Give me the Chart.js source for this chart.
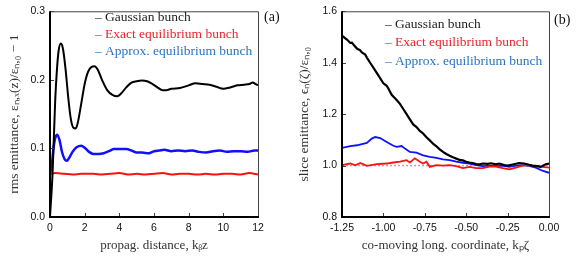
<!DOCTYPE html>
<html>
<head>
<meta charset="utf-8">
<script src="https://cdn.jsdelivr.net/npm/chart.js@4/dist/chart.umd.min.js"></script>
<style>
body { margin: 0; background: #fff; }
#wrap { position: relative; width: 581px; height: 261px; }
.panel { position: absolute; top: 0; }
</style>
</head>
<body>
<div id="wrap">
  <div class="panel" style="left:0"><canvas id="panel-a" width="290" height="261"></canvas></div>
  <div class="panel" style="left:290px"><canvas id="panel-b" width="291" height="261"></canvas></div>
</div>
<script>
/* series labels and legend text colours */
var seriesLabels = ["Gaussian bunch", "Exact equilibrium bunch", "Approx. equilibrium bunch"];
var legendColors = ["#222", "#f0202e", "#2b72c2"];

/* panel (a): rms emittance growth vs propagation distance, [k_beta z, value] */
var gaussianA = [[0,0],[0.15,0.065],[0.3,0.17],[0.4,0.215],[0.5,0.243],[0.63,0.253],[0.75,0.245],
  [0.9,0.215],[1.05,0.175],[1.2,0.143],[1.35,0.13],[1.48,0.129],[1.6,0.137],[1.8,0.165],[2.0,0.194],
  [2.2,0.212],[2.4,0.219],[2.57,0.22],[2.75,0.215],[3.0,0.2],[3.3,0.185],[3.6,0.178],[3.88,0.176],
  [4.1,0.18],[4.4,0.189],[4.7,0.196],[5.0,0.198],[5.3,0.199],[5.6,0.198],[5.9,0.194],[6.2,0.189],
  [6.5,0.185],[6.7,0.185],[7.0,0.187],[7.5,0.188],[8.0,0.192],[8.4,0.195],[8.8,0.194],[9.2,0.193],
  [9.6,0.19],[10.0,0.187],[10.4,0.189],[10.8,0.192],[11.2,0.193],[11.5,0.194],[11.7,0.196],
  [11.85,0.194],[12.0,0.192]];
var exactA = [[0,0.062],[0.3,0.064],[0.8,0.063],[1.3,0.062],[1.8,0.063],[2.5,0.063],[3.0,0.062],
  [3.5,0.063],[4.0,0.064],[4.5,0.062],[5.0,0.063],[5.5,0.062],[6.0,0.063],[6.5,0.064],[7.0,0.062],
  [7.5,0.063],[8.0,0.063],[8.5,0.062],[9.0,0.063],[9.5,0.062],[10.0,0.063],[10.5,0.063],
  [11.0,0.062],[11.5,0.064],[12.0,0.062]];
var approxA = [[0,0.063],[0.1,0.075],[0.2,0.1],[0.3,0.115],[0.42,0.12],[0.55,0.112],[0.7,0.094],
  [0.85,0.084],[0.97,0.082],[1.1,0.086],[1.3,0.095],[1.55,0.102],[1.8,0.104],[2.0,0.101],
  [2.25,0.095],[2.5,0.092],[2.8,0.092],[3.1,0.093],[3.4,0.096],[3.7,0.099],[4.0,0.099],[4.4,0.099],
  [4.7,0.097],[5.0,0.094],[5.3,0.094],[5.7,0.093],[6.0,0.096],[6.3,0.097],[6.6,0.098],[7.0,0.096],
  [7.4,0.097],[7.8,0.096],[8.2,0.097],[8.6,0.095],[9.0,0.094],[9.4,0.096],[9.8,0.097],[10.2,0.095],
  [10.6,0.096],[11.0,0.096],[11.4,0.095],[11.8,0.097],[12.0,0.097]];

/* panel (b): slice emittance vs co-moving coordinate, [k_p zeta, value] */
var gaussianB = [[-1.25,1.505],[-1.23,1.495],[-1.22,1.49],[-1.2,1.477],[-1.19,1.478],[-1.18,1.47],
  [-1.16,1.455],[-1.14,1.448],[-1.13,1.44],[-1.11,1.432],[-1.1,1.42],[-1.08,1.4],[-1.05,1.37],
  [-1.02,1.34],[-1.0,1.32],[-0.98,1.31],[-0.97,1.3],[-0.95,1.275],[-0.92,1.255],[-0.9,1.24],
  [-0.88,1.22],[-0.86,1.2],[-0.84,1.18],[-0.82,1.16],[-0.8,1.15],[-0.78,1.135],[-0.76,1.125],
  [-0.74,1.11],[-0.72,1.098],[-0.7,1.085],[-0.68,1.075],[-0.66,1.063],[-0.64,1.053],[-0.62,1.045],
  [-0.6,1.038],[-0.58,1.032],[-0.56,1.027],[-0.54,1.022],[-0.52,1.02],[-0.5,1.015],[-0.48,1.012],
  [-0.46,1.01],[-0.44,1.006],[-0.42,1.005],[-0.4,1.008],[-0.37,1.007],[-0.35,1.009],[-0.32,1.005],
  [-0.3,1.008],[-0.27,1.002],[-0.25,1.0],[-0.22,1.004],[-0.2,1.007],[-0.18,1.01],[-0.15,1.008],
  [-0.12,1.003],[-0.1,1.0],[-0.07,0.998],[-0.05,0.995],[-0.02,1.005],[0,1.008]];
var exactB = [[-1.25,1.002],[-1.2,1.008],[-1.17,1.001],[-1.14,1.01],[-1.1,0.999],[-1.04,1.006],
  [-0.98,1.008],[-0.94,1.012],[-0.9,1.015],[-0.86,1.021],[-0.84,1.012],[-0.81,1.028],[-0.78,1.015],
  [-0.76,1.008],[-0.74,1.015],[-0.72,0.995],[-0.68,1.002],[-0.64,1.0],[-0.6,1.002],[-0.56,0.998],
  [-0.52,0.99],[-0.48,0.995],[-0.44,0.99],[-0.4,0.99],[-0.36,0.996],[-0.32,0.996],[-0.28,0.99],
  [-0.24,0.985],[-0.2,0.992],[-0.16,1.0],[-0.12,1.002],[-0.08,0.998],[-0.04,0.995],[0,0.992]];
var approxB = [[-1.25,1.069],[-1.2,1.076],[-1.16,1.079],[-1.1,1.088],[-1.07,1.105],[-1.05,1.111],
  [-1.02,1.107],[-0.98,1.092],[-0.94,1.077],[-0.92,1.073],[-0.89,1.076],[-0.87,1.066],
  [-0.84,1.053],[-0.8,1.05],[-0.76,1.04],[-0.72,1.034],[-0.68,1.03],[-0.64,1.024],[-0.6,1.021],
  [-0.56,1.015],[-0.52,1.011],[-0.48,1.008],[-0.44,1.002],[-0.4,0.998],[-0.36,1.0],[-0.32,0.998],
  [-0.28,1.0],[-0.24,0.995],[-0.2,1.0],[-0.16,1.002],[-0.12,0.999],[-0.08,0.992],[-0.04,0.98],
  [0,0.972]];
var referenceB = [[-1.25,1.0],[0,1.0]];

function pts(arr) {
  return arr.map(function(p) { return {x: p[0], y: p[1]}; });
}

/* frame: thick left/bottom axes, thin top/right, inward ticks */
var framePlugin = {
  id: "frame",
  afterDatasetsDraw: function(chart) {
    var a = chart.chartArea, c = chart.ctx;
    var xs = chart.scales.x, ys = chart.scales.y;
    c.save();
    c.strokeStyle = "#444";
    c.lineWidth = 1;
    c.beginPath();
    c.moveTo(a.left, a.top + 0.5);
    c.lineTo(a.right + 0.5, a.top + 0.5);
    c.lineTo(a.right + 0.5, a.bottom);
    c.stroke();
    c.beginPath();
    xs.ticks.forEach(function(t) {
      var px = Math.round(xs.getPixelForValue(t.value)) + 0.5;
      c.moveTo(px, a.bottom);
      c.lineTo(px, a.bottom - 4);
    });
    ys.ticks.forEach(function(t) {
      var py = Math.round(ys.getPixelForValue(t.value)) + 0.5;
      c.moveTo(a.left, py);
      c.lineTo(a.left + 4, py);
    });
    c.stroke();
    c.strokeStyle = "#000";
    c.lineWidth = 2;
    c.beginPath();
    c.moveTo(a.left, a.top);
    c.lineTo(a.left, a.bottom);
    c.lineTo(a.right + 1, a.bottom);
    c.stroke();
    c.restore();
  }
};

/* legend drawn inside the plot + panel letter */
var insideLegend = {
  id: "insideLegend",
  afterDraw: function(chart, args, opts) {
    var c = chart.ctx;
    c.save();
    c.font = "13.5px 'Liberation Serif'";
    c.textBaseline = "middle";
    for (var i = 0; i < seriesLabels.length; i++) {
      c.fillStyle = legendColors[i];
      c.fillText("\u2013", opts.x, opts.y + i * opts.step);
      c.fillText(chart.data.datasets[i].label, opts.x + 10, opts.y + i * opts.step);
    }
    c.fillStyle = "#111";
    c.font = "14px 'Liberation Serif'";
    c.fillText(opts.panel, opts.px, opts.py);
    c.restore();
  }
};

function makeOptions(xr, yr, xTitle, yTitle, yWidth, legend, smooth) {
  return {
    responsive: false,
    animation: false,
    layout: { padding: { top: 10, right: 32, left: 0, bottom: 0 } },
    elements: { point: { radius: 0 }, line: { tension: smooth ? 0.4 : 0, cubicInterpolationMode: smooth ? "monotone" : "default" } },
    plugins: { legend: { display: false }, tooltip: { enabled: false }, insideLegend: legend },
    scales: {
      x: {
        type: "linear", min: xr[0], max: xr[1],
        grid: { display: false, drawTicks: false }, border: { display: false },
        ticks: { stepSize: xr[2], padding: 5, color: "#111", font: { family: "'Liberation Sans'", size: 10.5 },
          callback: function(v) { return v.toFixed(xr[3]); } },
        title: { display: true, text: xTitle, color: "#333", font: { family: "'Liberation Serif'", size: 13 },
          padding: { top: 0, bottom: 8 } },
        afterFit: function(s) { s.height = 44; }
      },
      y: {
        min: yr[0], max: yr[1],
        grid: { display: false, drawTicks: false }, border: { display: false },
        ticks: { stepSize: yr[2], padding: 5, color: "#111", font: { family: "'Liberation Sans'", size: 10.5 },
          callback: function(v) { return v.toFixed(1); } },
        title: { display: true, text: yTitle, color: "#333", font: { family: "'Liberation Serif'", size: 13.5 },
          padding: { top: 6, bottom: 0 } },
        afterFit: function(s) { s.width = yWidth; }
      }
    }
  };
}

new Chart(document.getElementById("panel-a"), {
  type: "line",
  data: {
    datasets: [
      { label: seriesLabels[0], data: pts(gaussianA), borderColor: "#000", borderWidth: 2 },
      { label: seriesLabels[1], data: pts(exactA), borderColor: "#ff1010", borderWidth: 2 },
      { label: seriesLabels[2], data: pts(approxA), borderColor: "#1010ff", borderWidth: 2.5 }
    ]
  },
  options: makeOptions([0, 12, 2, 0], [0, 0.3, 0.1],
    "propag. distance, k\u1D66z", "rms emittance, \u03B5\u2099,\u2093(z)/\u03B5\u2099,\u2080 \u2212 1", 50,
    { x: 95, y: 17, step: 17, panel: "(a)", px: 264, py: 17 }, true),
  plugins: [framePlugin, insideLegend]
});

new Chart(document.getElementById("panel-b"), {
  type: "line",
  data: {
    datasets: [
      { label: seriesLabels[0], data: pts(gaussianB), borderColor: "#000", borderWidth: 2.2 },
      { label: seriesLabels[1], data: pts(exactB), borderColor: "#ff1010", borderWidth: 1.8 },
      { label: seriesLabels[2], data: pts(approxB), borderColor: "#1010ff", borderWidth: 1.8 },
      { label: "reference", data: pts(referenceB), borderColor: "#aaa", borderWidth: 1.5, borderDash: [2, 2], order: 1 }
    ]
  },
  options: makeOptions([-1.25, 0, 0.25, 2], [0.8, 1.6, 0.2],
    "co-moving long. coordinate, k\u209A\u03B6", "slice emittance, \u03F5\u2099(\u03B6)/\u03B5\u2099,\u2080", 52,
    { x: 95, y: 24, step: 18.5, panel: "(b)", px: 264, py: 20 }, false),
  plugins: [framePlugin, insideLegend]
});
</script>
</body>
</html>
